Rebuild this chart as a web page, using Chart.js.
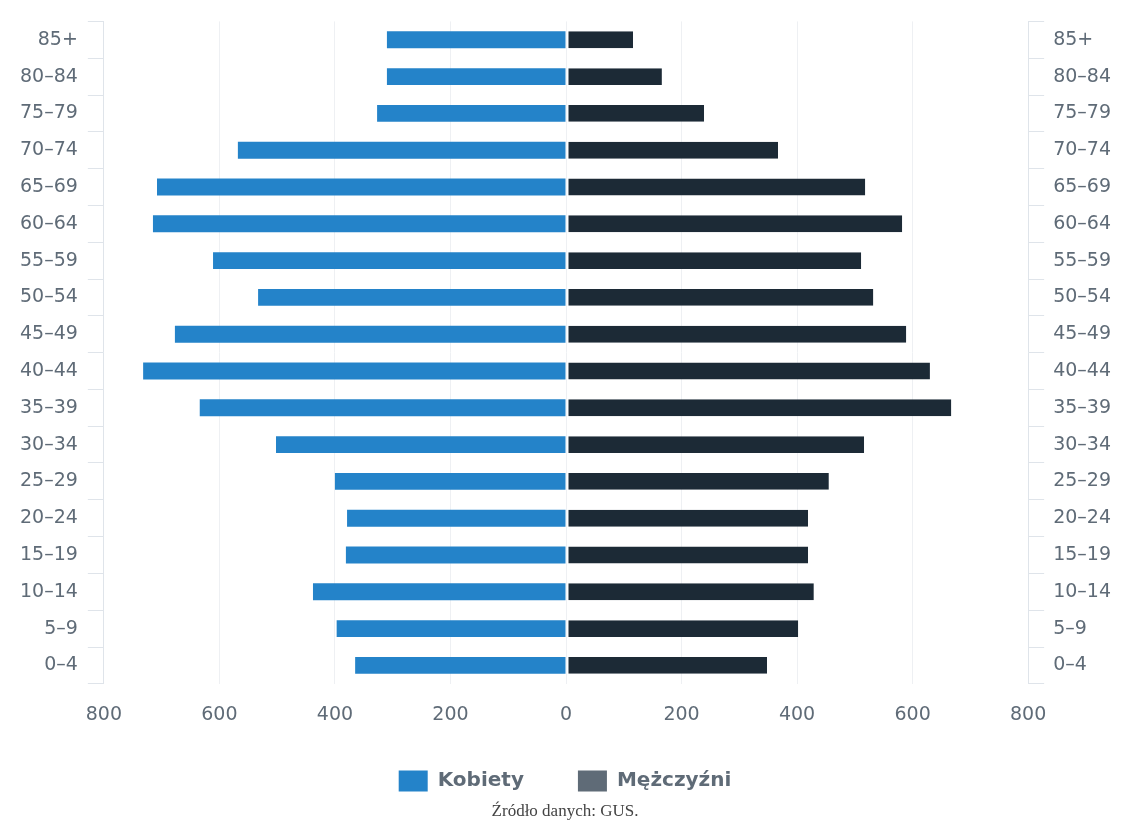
<!DOCTYPE html>
<html>
<head>
<meta charset="utf-8">
<script src="https://cdn.jsdelivr.net/npm/chart.js@4/dist/chart.umd.min.js"></script>
<style>
  body { margin: 0; background: #fff; }
  #wrap { width: 1122px; height: 829px; }
</style>
</head>
<body>
<div id="wrap"><canvas id="piramida"></canvas></div>
<script>
// grupy wieku (od góry do dołu)
const grupy = ["85+", "80–84", "75–79", "70–74", "65–69", "60–64", "55–59", "50–54", "45–49",
               "40–44", "35–39", "30–34", "25–29", "20–24", "15–19", "10–14", "5–9", "0–4"];

// wartości (tys.)
const kobiety   = [310, 310, 327, 568, 708, 715, 611, 533, 677, 732, 634, 502, 400, 379, 381, 438, 397, 365];
const mezczyzni = [116, 166, 239, 367, 518, 582, 511, 532, 589, 630, 667, 516, 455, 419, 419, 429, 402, 348];

const osX = [-800, -600, -400, -200, 0, 200, 400, 600, 800];

const szary = "#5f6b77";
const czcionka = "'DejaVu Sans', Verdana, sans-serif";

window.onload = () => {
    const ctx = document.getElementById("piramida");

    new Chart(ctx, {
        type: "bar",
        data: {
            labels: grupy,
            datasets: [{
                label: "Kobiety",
                data: kobiety.map(v => -v),
                backgroundColor: "#2483c9",
                barPercentage: 0.46,
                categoryPercentage: 1
            }, {
                label: "Mężczyźni",
                data: mezczyzni,
                backgroundColor: "#1c2a36",
                borderColor: "#ffffff",
                borderWidth: { left: 2, right: 0, top: 0, bottom: 0 },
                borderSkipped: false,
                barPercentage: 0.46,
                categoryPercentage: 1
            }]
        },
        options: {
            indexAxis: "y",
            responsive: true,
            maintainAspectRatio: false,
            animation: false,
            layout: { padding: { top: 18, left: 10, right: 2, bottom: 3 } },
            scales: {
                x: {
                    min: -800,
                    max: 800,
                    afterBuildTicks: axis => { axis.ticks = osX.map(v => ({ value: v })); },
                    ticks: {
                        callback: v => Math.abs(v),
                        color: szary,
                        font: { family: czcionka, size: 19 },
                        padding: 20
                    },
                    grid: { color: "#eef0f3", drawTicks: false },
                    border: { display: false }
                },
                y: {
                    stacked: true,
                    position: "left",
                    ticks: {
                        color: szary,
                        font: { family: czcionka, size: 19 },
                        padding: 10
                    },
                    grid: { drawOnChartArea: false, tickLength: 16, color: "#dfe4ea" },
                    border: { color: "#dfe4ea" }
                },
                y2: {
                    type: "category",
                    labels: grupy,
                    position: "right",
                    offset: true,
                    ticks: {
                        color: szary,
                        font: { family: czcionka, size: 19 },
                        padding: 9
                    },
                    grid: { drawOnChartArea: false, tickLength: 16, color: "#dfe4ea" },
                    border: { color: "#dfe4ea" }
                }
            },
            plugins: {
                legend: {
                    position: "bottom",
                    labels: {
                        color: szary,
                        font: { family: czcionka, size: 20, weight: "bold" },
                        boxWidth: 29,
                        boxHeight: 21,
                        padding: 24,
                        generateLabels: chart => {
                            const items = Chart.defaults.plugins.legend.labels.generateLabels(chart);
                            items.forEach(it => {
                                it.lineWidth = 0;
                                if (it.datasetIndex === 0) it.text = it.text + "\u2003\u2002";
                                if (it.datasetIndex === 1) it.fillStyle = szary;
                            });
                            return items;
                        }
                    }
                },
                title: {
                    display: true,
                    position: "bottom",
                    text: "Źródło danych: GUS.",
                    color: "#444",
                    font: { family: "'Liberation Serif', 'Times New Roman', serif", size: 17, weight: "normal" },
                    padding: { top: 0, bottom: 4 }
                },
                tooltip: { enabled: false }
            }
        }
    });
};
</script>
</body>
</html>
